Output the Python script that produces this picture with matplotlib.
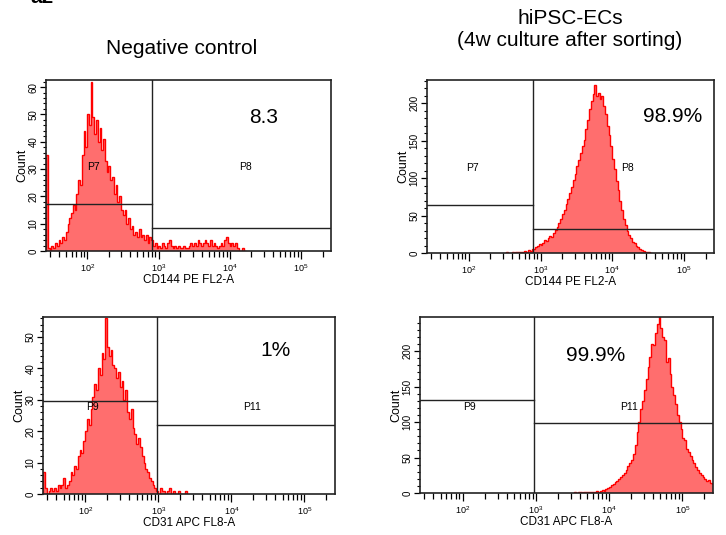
import numpy as np
import matplotlib
matplotlib.use("Agg")
import matplotlib.pyplot as plt
from matplotlib.ticker import FixedLocator, FixedFormatter, MultipleLocator

plt.rcParams['font.family'] = ['Liberation Sans', 'DejaVu Sans']
plt.rcParams['mathtext.fontset'] = 'custom'
plt.rcParams['mathtext.rm'] = 'Liberation Sans'

# histogram counts, log10 bins of width 0.025 starting at the given log10 value
bin_step = 0.025

neg_cd144_start = 1.42
neg_cd144 = [35, 1, 0, 2, 1, 3, 2, 4, 3, 5, 4, 7, 10, 12, 14, 17, 15, 21, 26, 24,
             35, 44, 38, 50, 46, 62, 49, 43, 48, 40, 45, 37, 41, 33, 29, 31, 26, 27, 21, 24,
             18, 20, 15, 13, 15, 10, 12, 8, 9, 6, 7, 5, 8, 5, 6, 4, 6, 3, 5, 4,
             2, 3, 1, 2, 1, 3, 2, 1, 3, 4, 2, 1, 2, 1, 2, 1, 1, 2, 1, 1,
             2, 3, 2, 3, 2, 4, 3, 2, 3, 4, 3, 2, 4, 2, 3, 2, 1, 2, 3, 2,
             4, 5, 3, 2, 3, 2, 3, 1, 0, 0, 1, 0]

ec_cd144_start = 2.5
ec_cd144 = [0, 1, 0, 0, 1, 0, 1, 2, 1, 2, 2, 3, 2, 4, 3, 5, 6, 8, 9, 12,
            11, 14, 17, 16, 20, 23, 22, 27, 31, 35, 40, 46, 52, 58, 66, 72, 80, 88, 98, 105,
            116, 124, 133, 143, 151, 165, 178, 192, 203, 212, 224, 210, 214, 205, 209, 196, 186, 170, 158, 143,
            125, 112, 96, 84, 70, 58, 45, 38, 30, 24, 20, 15, 13, 9, 8, 5, 4, 3, 2, 1,
            1, 0]

neg_cd31_start = 1.42
neg_cd31 = [7, 2, 0, 1, 2, 1, 2, 1, 3, 2, 3, 5, 2, 3, 4, 7, 6, 9, 8, 12,
            14, 13, 17, 20, 24, 22, 27, 31, 35, 33, 40, 38, 45, 43, 56, 47, 44, 46, 41, 40,
            37, 39, 34, 36, 30, 33, 26, 24, 27, 21, 19, 16, 18, 15, 12, 10, 8, 7, 5, 4,
            3, 2, 1, 0, 2, 1, 1, 0, 1, 2, 0, 1, 0, 0, 1, 0, 0, 0, 1]

ec_cd31_start = 3.5
ec_cd31 = [0, 1, 0, 1, 1, 0, 1, 2, 1, 1, 2, 1, 2, 3, 2, 3, 4, 3, 5, 7,
           9, 11, 13, 15, 17, 20, 22, 26, 28, 33, 38, 42, 47, 55, 68, 86, 100, 118, 130, 145,
           160, 178, 192, 210, 208, 225, 238, 250, 232, 220, 215, 184, 190, 168, 150, 138, 125, 110, 100, 90,
           78, 74, 62, 58, 52, 46, 42, 36, 33, 28, 26, 22, 20, 17, 18, 14, 12]

titles = ["Negative control", "hiPSC-ECs\n(4w culture after sorting)"]
xlabels = ["CD144 PE FL2-A", "CD31 APC FL8-A"]
percents = ["8.3", "98.9%", "1%", "99.9%"]
gate_names = [("P7", "P8"), ("P7", "P8"), ("P9", "P11"), ("P9", "P11")]
gate_x = [810, 790, 955, 940]
gate_left_y = [17.2, 64, 29.6, 131]
gate_right_y = [8.4, 32, 22, 98]
y_max = [62.6, 231, 56.4, 248]
y_major = [10, 50, 10, 50]
y_minor = [2, 10, 2, 10]

W, H = 726, 535
fig = plt.figure(figsize=(W / 100, H / 100), dpi=100)


def box(l, t, r, b):
    return [l / W, 1 - b / H, (r - l) / W, (b - t) / H]


boxes = [box(46, 80, 331, 251), box(427, 80, 714, 253),
         box(43, 317, 335, 494), box(420, 317, 713, 493)]
hists = [(neg_cd144_start, neg_cd144), (ec_cd144_start, ec_cd144),
         (neg_cd31_start, neg_cd31), (ec_cd31_start, ec_cd31)]
# text positions in axes fraction: (P left, P right, percent)
lbl_pos = [((0.165, 0.49), (0.70, 0.49), (0.765, 0.78)),
           ((0.16, 0.49), (0.70, 0.49), (0.855, 0.79)),
           ((0.17, 0.49), (0.715, 0.49), (0.795, 0.81)),
           ((0.17, 0.49), (0.715, 0.49), (0.60, 0.78))]

xmaj = [1e2, 1e3, 1e4, 1e5]
xmaj_lbl = [r"$\mathregular{10^{%d}}$" % k for k in range(2, 6)]
xmin_ticks = [m * 10 ** d for d in range(1, 6) for m in range(2, 10)]

for i in range(4):
    ax = fig.add_axes(boxes[i])
    start, counts = hists[i]
    edges = 10 ** (start + bin_step * np.arange(len(counts) + 1))
    ax.stairs(counts, edges, fill=True, color='#ff6e6e', lw=0)
    ax.stairs(counts, edges, color='#ff0000', lw=1.0)

    ax.set_xscale('log')
    ax.set_xlim(10 ** 1.418, 10 ** 5.418)
    ax.set_ylim(0, y_max[i])

    # gates
    ax.axvline(gate_x[i], color='#222222', lw=1.0)
    ax.plot([ax.get_xlim()[0], gate_x[i]], [gate_left_y[i]] * 2, color='#222222', lw=1.0)
    ax.plot([gate_x[i], ax.get_xlim()[1]], [gate_right_y[i]] * 2, color='#222222', lw=1.0)

    (pl, pr, pp) = lbl_pos[i]
    ax.text(pl[0], pl[1], gate_names[i][0], transform=ax.transAxes, fontsize=7.5,
            ha='center', va='center')
    ax.text(pr[0], pr[1], gate_names[i][1], transform=ax.transAxes, fontsize=7.5,
            ha='center', va='center')
    ax.text(pp[0], pp[1], percents[i], transform=ax.transAxes, fontsize=15,
            ha='center', va='center')

    ax.xaxis.set_major_locator(FixedLocator(xmaj))
    ax.xaxis.set_major_formatter(FixedFormatter(xmaj_lbl))
    ax.xaxis.set_minor_locator(FixedLocator([t for t in xmin_ticks if t > 27]))
    ax.xaxis.set_minor_formatter(FixedFormatter([]))
    ax.yaxis.set_major_locator(MultipleLocator(y_major[i]))
    ax.yaxis.set_minor_locator(MultipleLocator(y_minor[i]))
    ax.tick_params(axis='x', which='major', length=6, width=0.9, labelsize=6.5, pad=2)
    ax.tick_params(axis='x', which='minor', length=4.5, width=0.9)
    ax.tick_params(axis='y', which='major', length=4, width=0.9, labelsize=7,
                   labelrotation=90, pad=1.5)
    ax.tick_params(axis='y', which='minor', length=2.5, width=0.8)
    for lab in ax.get_yticklabels():
        lab.set_va('center')
    for s in ax.spines.values():
        s.set_linewidth(1.2)
        s.set_color('#222222')
    ax.set_ylabel("Count", fontsize=9, labelpad=0)
    ax.set_xlabel(xlabels[i // 2], fontsize=8.5, labelpad=0)

fig.text(182 / W, 1 - 48 / H, titles[0], fontsize=15, ha='center', va='center')
fig.text(570 / W, 1 - 30 / H, titles[1], fontsize=15, ha='center', va='center',
         linespacing=1.2)
fig.text(30 / W, 1 - 3 / H, "a2", fontsize=15, fontweight='bold', va='baseline')

fig.savefig("out.png", dpi=100)
